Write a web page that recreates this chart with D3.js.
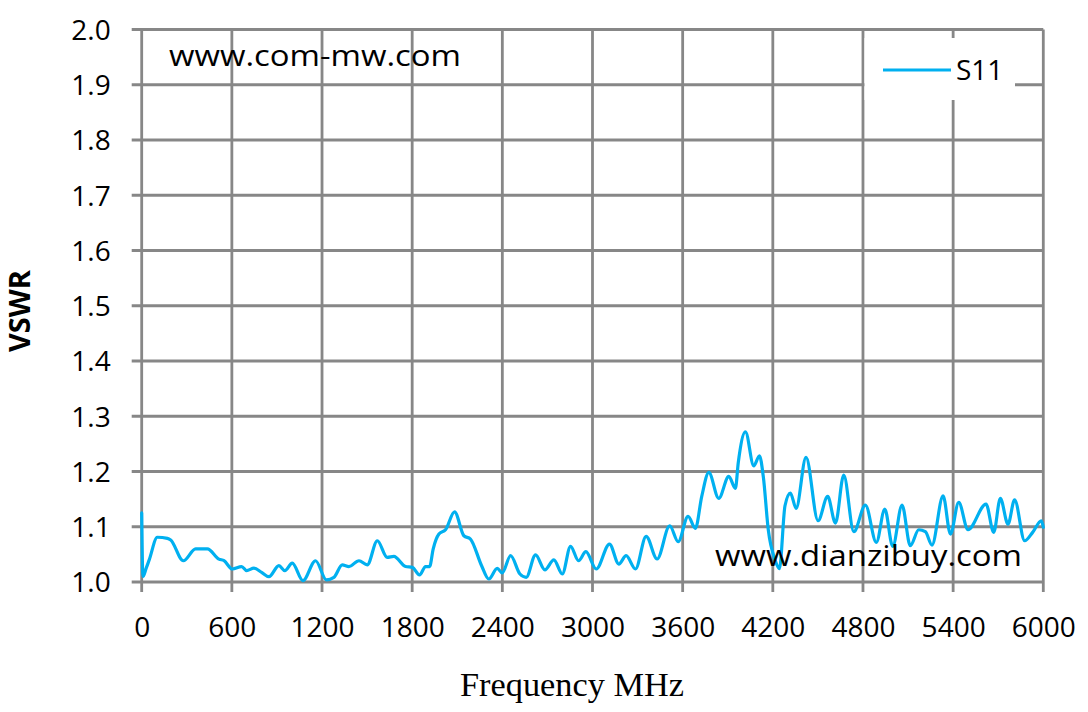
<!DOCTYPE html>
<html>
<head>
<meta charset="utf-8">
<script src="https://cdn.jsdelivr.net/npm/d3@7"></script>
<style>
html,body{margin:0;padding:0;background:#fff;}
svg{display:block;}
</style>
</head>
<body>
<svg id="chart" width="1088" height="712"></svg>
<script>
// ---- data ----
const freqMHz = [0,8,30,50,104,171,193,277,359,437,514,548,603,665,698,747,798,847,913,953,1002,1073,1157,1229,1279,1335,1379,1446,1501,1568,1634,1678,1756,1801,1849,1889,1916,1940,1978,2022,2082,2144,2188,2262,2310,2366,2399,2455,2517,2559,2621,2683,2743,2799,2854,2907,2956,3025,3113,3175,3224,3286,3357,3430,3514,3570,3636,3685,3727,3774,3840,3907,3951,3970,4018,4073,4111,4137,4170,4215,4244,4281,4317,4355,4421,4501,4565,4617,4672,4739,4816,4889,4945,4998,5060,5115,5171,5215,5259,5333,5382,5437,5499,5619,5670,5714,5765,5809,5876,5929,5987,6000];
const s11VSWR = [1.125,1.010,1.025,1.040,1.081,1.079,1.076,1.0385,1.060,1.060,1.0415,1.0385,1.0235,1.028,1.0205,1.025,1.0175,1.0096,1.0295,1.0205,1.034,1.0024,1.0385,1.004,1.0085,1.031,1.028,1.0385,1.031,1.0747,1.0446,1.0464,1.028,1.0265,1.0127,1.028,1.028,1.060,1.0868,1.0946,1.127,1.0837,1.0778,1.0295,1.0054,1.0247,1.0163,1.0476,1.0145,1.0085,1.049,1.022,1.040,1.0145,1.0645,1.0385,1.055,1.0235,1.0687,1.0325,1.0476,1.0235,1.0826,1.0416,1.1018,1.0729,1.1188,1.0971,1.155,1.1984,1.1514,1.1911,1.1694,1.2158,1.2718,1.2103,1.2284,1.190,1.094,1.040,1.024,1.138,1.161,1.1333,1.2255,1.1109,1.155,1.1067,1.1935,1.091,1.1392,1.0718,1.132,1.0645,1.1392,1.0657,1.0946,1.091,1.0669,1.156,1.0868,1.1441,1.0946,1.141,1.0898,1.1514,1.1049,1.1488,1.0747,1.0898,1.1109,1.099];
const xTicks = [0,600,1200,1800,2400,3000,3600,4200,4800,5400,6000];
const yTicks = [1.0,1.1,1.2,1.3,1.4,1.5,1.6,1.7,1.8,1.9,2.0];
const seriesName = "S11";
const xTitle = "Frequency MHz";
const yTitle = "VSWR";
const watermark1 = "www.com-mw.com";
const watermark2 = "www.dianzibuy.com";

// ---- layout ----
const svg = d3.select("#chart");
const L = 141.7, R = 1043.3, T = 29.5, B = 582;
const x = d3.scaleLinear().domain([0,6000]).range([L,R]);
const y = d3.scaleLinear().domain([1.0,2.0]).range([B,T]);
const gridColor = "#878787";
const font = "'Open Sans', sans-serif";

// gridlines (vertical)
svg.append("g").selectAll("line").data(xTicks).join("line")
  .attr("x1", d=>x(d)).attr("x2", d=>x(d))
  .attr("y1", T).attr("y2", B+10)
  .attr("stroke", gridColor).attr("stroke-width", 2.8);
// gridlines (horizontal)
svg.append("g").selectAll("line").data(yTicks).join("line")
  .attr("x1", L-10).attr("x2", R)
  .attr("y1", d=>y(d)).attr("y2", d=>y(d))
  .attr("stroke", gridColor).attr("stroke-width", 2.8);

// axes labels via d3 axes
const xAxis = d3.axisBottom(x).tickValues(xTicks).tickSize(0).tickPadding(0).tickFormat(d3.format("d"));
const gx = svg.append("g").attr("transform", `translate(0,${B})`).call(xAxis);
gx.select(".domain").remove();
gx.selectAll("text").attr("font-family", font).attr("font-size", 28).attr("fill","#000")
  .attr("dy", null).attr("y", 55);

const yAxis = d3.axisLeft(y).tickValues(yTicks).tickSize(0).tickPadding(0).tickFormat(d3.format(".1f"));
const gy = svg.append("g").attr("transform", `translate(${L},0)`).call(yAxis);
gy.select(".domain").remove();
gy.selectAll("text").attr("font-family", font).attr("font-size", 28).attr("fill","#000")
  .attr("x", -31).attr("dy", "0.35em");

// series line
const line = d3.line().x((d,i)=>x(freqMHz[i])).y(d=>y(d)).curve(d3.curveMonotoneX);
svg.append("path").datum(s11VSWR)
  .attr("d", line)
  .attr("fill","none").attr("stroke","#00B0F0").attr("stroke-width",3.2)
  .attr("stroke-linejoin","round").attr("stroke-linecap","round");

// watermarks
svg.append("text").attr("x", 169).attr("y", 66).text(watermark1)
  .attr("font-family", font).attr("font-size", 30).attr("fill","#000")
  .attr("textLength", 292).attr("lengthAdjust","spacingAndGlyphs");
svg.append("text").attr("x", 715).attr("y", 566).text(watermark2)
  .attr("font-family", font).attr("font-size", 30).attr("fill","#000")
  .attr("textLength", 307).attr("lengthAdjust","spacingAndGlyphs");

// legend
const lg = svg.append("g");
lg.append("rect").attr("x", 864.5).attr("y", 38).attr("width", 150.5).attr("height", 62).attr("fill","#fff");
lg.append("line").attr("x1", 883).attr("x2", 951).attr("y1", 70).attr("y2", 70)
  .attr("stroke","#00B0F0").attr("stroke-width",3);
lg.append("text").attr("x", 956).attr("y", 80).text(seriesName)
  .attr("font-family", font).attr("font-size", 28).attr("fill","#000");

// axis titles
svg.append("text").attr("x", 572).attr("y", 696).attr("text-anchor","middle").text(xTitle)
  .attr("font-family","'Liberation Serif', serif").attr("font-size", 33).attr("fill","#000")
  .attr("textLength", 224).attr("lengthAdjust","spacingAndGlyphs");
svg.append("text").attr("transform","translate(30,311) rotate(-90)").attr("text-anchor","middle").text(yTitle)
  .attr("font-family", font).attr("font-weight","bold").attr("font-size", 29).attr("fill","#000");
</script>
</body>
</html>
